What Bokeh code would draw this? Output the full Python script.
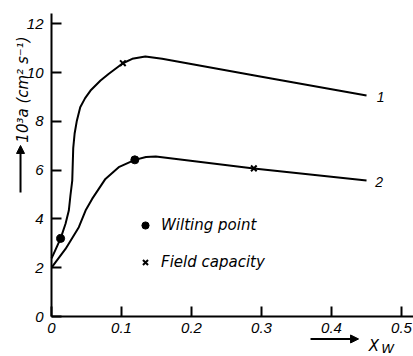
import math
from bokeh.plotting import figure
from bokeh.models import (Range1d, FixedTicker, Label, Arrow, NormalHead,
                          Legend, LegendItem)
from bokeh.embed import file_html
from bokeh.resources import INLINE

# ---- data ----
c1_x = [0.0, 0.003, 0.013, 0.020, 0.0247, 0.027, 0.0296, 0.031, 0.033, 0.036,
        0.041, 0.048, 0.0557, 0.070, 0.0819, 0.1019, 0.1153, 0.134, 0.158,
        0.300, 0.450]
c1_y = [2.38, 2.57, 3.20, 3.80, 4.34, 4.96, 5.57, 6.90, 7.50, 8.00,
        8.58, 8.95, 9.26, 9.67, 9.95, 10.38, 10.56, 10.66, 10.56,
        9.83, 9.06]

c2_x = [0.0, 0.020, 0.039, 0.0486, 0.058, 0.077, 0.096, 0.119, 0.135, 0.149,
        0.289, 0.450]
c2_y = [2.00, 2.77, 3.66, 4.34, 4.82, 5.64, 6.12, 6.42, 6.54, 6.56,
        6.07, 5.57]

wilt_x = [0.013, 0.119]
wilt_y = [3.20, 6.42]
field_x = [0.1019, 0.289]
field_y = [10.38, 6.07]

curve_names = ["1", "2"]
curve_label_x = [0.470, 0.468]
curve_label_y = [8.98, 5.53]

x_ticks = [0, 0.1, 0.2, 0.3, 0.4, 0.5]
x_tick_labels = ["0", "0.1", "0.2", "0.3", "0.4", "0.5"]
y_ticks = [0, 2, 4, 6, 8, 10, 12]
y_tick_labels = ["0", "2", "4", "6", "8", "10", "12"]

legend_names = ["Wilting point", "Field capacity"]
y_title = "10³a (cm² s⁻¹)"
x_title = "X"
x_title_sub = "W"

TICK_FONT = "Liberation Sans"
TEXT_FONT = "DejaVu Sans"

p = figure(width=413, height=356, output_backend="svg", toolbar_location=None,
           x_range=Range1d(-0.0729, 0.5171), y_range=Range1d(-1.639, 12.951),
           min_border_left=0, min_border_right=0, min_border_top=0,
           min_border_bottom=0)
p.outline_line_color = None
p.xgrid.visible = False
p.ygrid.visible = False
p.background_fill_color = "white"
p.border_fill_color = "white"

for ax, ticks, labels in ((p.xaxis[0], x_ticks, x_tick_labels),
                          (p.yaxis[0], y_ticks, y_tick_labels)):
    ax.fixed_location = 0
    ax.ticker = FixedTicker(ticks=ticks)
    ax.major_label_overrides = {t: l for t, l in zip(ticks, labels)}
    ax.minor_tick_line_color = None
    ax.major_tick_in = 10
    ax.major_tick_out = 0
    ax.axis_line_width = 2
    ax.major_tick_line_width = 2
    ax.axis_line_color = "black"
    ax.major_tick_line_color = "black"
    ax.major_label_text_font = TICK_FONT
    ax.major_label_text_font_style = "italic"
    ax.major_label_text_font_size = "15px"
    ax.major_label_text_color = "black"
p.xaxis.bounds = (0, 0.5171)
p.yaxis.bounds = (0, 12.42)
p.xaxis.major_label_standoff = 6
p.yaxis.major_label_standoff = 8

# curves
p.line(c1_x, c1_y, line_color="black", line_width=2, line_join="round")
p.line(c2_x, c2_y, line_color="black", line_width=2, line_join="round")

r_w = p.scatter(wilt_x, wilt_y, marker="circle", size=8, color="black")
r_f = p.scatter(field_x, field_y, marker="x", size=8, line_color="black",
                line_width=2)

# curve labels
for name, lx, ly in zip(curve_names, curve_label_x, curve_label_y):
    p.add_layout(Label(x=lx, y=ly, text=name, text_font=TICK_FONT,
                       text_font_style="italic", text_font_size="14px",
                       text_align="center", text_baseline="middle",
                       text_color="black"))

# legend
leg = Legend(items=[LegendItem(label=legend_names[0], renderers=[r_w]),
                    LegendItem(label=legend_names[1], renderers=[r_f])],
             location=(136, 84), padding=0, margin=0, spacing=17,
             glyph_width=18, glyph_height=20, label_height=20,
             label_standoff=7, border_line_color=None,
             background_fill_alpha=0,
             label_text_font=TEXT_FONT, label_text_font_style="italic",
             label_text_font_size="15px", label_text_color="black")
p.add_layout(leg, "center")

# y title with arrow
p.add_layout(Label(x=-0.0414, y=9.30, text=y_title, angle=math.pi / 2,
                   text_font=TEXT_FONT, text_font_style="italic",
                   text_font_size="15px", text_align="center",
                   text_baseline="middle", text_color="black"))
p.add_layout(Arrow(x_start=-0.0443, y_start=5.08, x_end=-0.0443, y_end=7.01,
                   line_width=2, line_color="black",
                   end=NormalHead(size=8, fill_color="black",
                                  line_color="black")))

# x title with arrow
p.add_layout(Arrow(x_start=0.370, y_start=-0.92, x_end=0.4386, y_end=-0.92,
                   line_width=2, line_color="black",
                   end=NormalHead(size=8, fill_color="black",
                                  line_color="black")))
p.add_layout(Label(x=0.453, y=-1.20, text=x_title, text_font=TEXT_FONT,
                   text_font_style="italic", text_font_size="15px",
                   text_align="left", text_baseline="alphabetic",
                   text_color="black"))
p.add_layout(Label(x=0.471, y=-1.32, text=x_title_sub, text_font=TEXT_FONT,
                   text_font_style="italic", text_font_size="13px",
                   text_align="left", text_baseline="alphabetic",
                   text_color="black"))

open("out.html", "w").write(file_html(p, INLINE))
